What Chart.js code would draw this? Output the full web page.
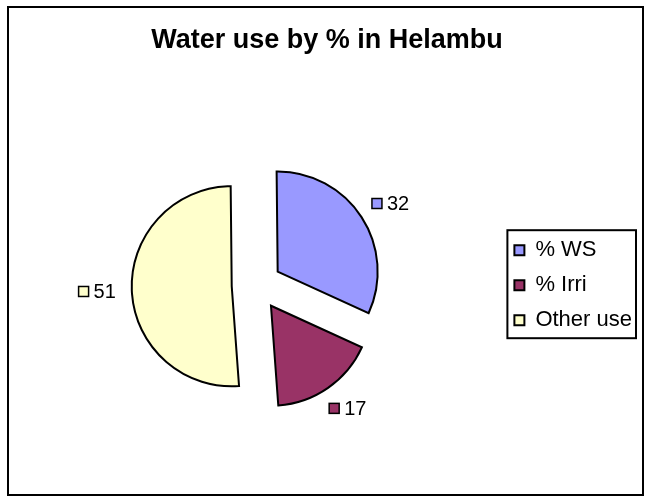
<!DOCTYPE html>
<html>
<head>
<meta charset="utf-8">
<title>Water use by % in Helambu</title>
<script src="https://cdn.jsdelivr.net/npm/chart.js@4.4.1/dist/chart.umd.min.js"></script>
<style>
  html, body { margin: 0; padding: 0; background: #fff; }
  canvas { display: block; }
</style>
</head>
<body>
<canvas id="water-pie" width="646" height="497"></canvas>
<script>
// --- DATA ---
const categories = ['% WS', '% Irri', 'Other use'];
const shares = [32, 17, 51];
const sliceColors = ['#9999FF', '#993366', '#FFFFCC'];

const FONT = "'Liberation Sans', Arial, sans-serif";
const EXPLODE = 25;      // how far each slice is pulled out
const LABEL_GAP = 16;    // distance from the rim to the value label

// push every slice out along its middle angle (Excel style exploded pie)
const explodePlugin = {
    id: 'explode',
    afterDatasetUpdate(chart, args) {
        args.meta.data.forEach(arc => {
            const mid = (arc.startAngle + arc.endAngle) / 2;
            arc.x += Math.cos(mid) * EXPLODE;
            arc.y += Math.sin(mid) * EXPLODE;
        });
    }
};

// value labels with a small colour key in front, outside each slice
const valueLabels = {
    id: 'valueLabels',
    afterDatasetsDraw(chart) {
        const ctx = chart.ctx;
        const meta = chart.getDatasetMeta(0);
        ctx.save();
        ctx.font = '20px ' + FONT;
        ctx.textBaseline = 'middle';
        meta.data.forEach((arc, i) => {
            const text = String(shares[i]);
            const mid = (arc.startAngle + arc.endAngle) / 2;
            const cos = Math.cos(mid), sin = Math.sin(mid);
            const dist = arc.outerRadius + LABEL_GAP;
            const px = arc.x + cos * dist;
            const py = arc.y + sin * dist;
            const w = 15 + ctx.measureText(text).width;
            const h = 18;
            const left = px - w * (1 - cos) / 2;
            const top = py - h * (1 - sin) / 2;
            ctx.fillStyle = sliceColors[i];
            ctx.fillRect(left, top + h / 2 - 5, 10, 10);
            ctx.lineWidth = 1.5;
            ctx.strokeStyle = '#000';
            ctx.strokeRect(left, top + h / 2 - 5, 10, 10);
            ctx.fillStyle = '#000';
            ctx.fillText(text, left + 15, top + h / 2 + 1);
        });
        ctx.restore();
    }
};

// outer frame of the chart and the box round the legend
const frames = {
    id: 'frames',
    afterDraw(chart) {
        const ctx = chart.ctx;
        ctx.save();
        ctx.strokeStyle = '#000';
        ctx.lineWidth = 2;
        ctx.strokeRect(8, 7, 635, 488);

        const hits = chart.legend.legendHitBoxes;
        if (hits && hits.length) {
            const l = Math.min(...hits.map(b => b.left)) - 7;
            const t = Math.min(...hits.map(b => b.top)) - 9;
            const r = Math.max(...hits.map(b => b.left + b.width)) + 4;
            const btm = Math.max(...hits.map(b => b.top + b.height)) + 7;
            ctx.strokeRect(l, t, r - l, btm - t);
        }
        ctx.restore();
    }
};

new Chart(document.getElementById('water-pie'), {
    type: 'pie',
    data: {
        labels: categories,
        datasets: [{
            data: shares,
            backgroundColor: sliceColors,
            borderColor: '#000',
            borderWidth: 2,
            borderJoinStyle: 'miter',
            radius: 100
        }]
    },
    options: {
        responsive: false,
        animation: false,
        rotation: -0.6,
        layout: { padding: { left: 12, right: 4, top: 10, bottom: 10 } },
        plugins: {
            title: {
                display: true,
                text: 'Water use by % in Helambu',
                color: '#000',
                font: { family: FONT, size: 27, weight: 'bold' },
                padding: { top: 14, bottom: 27 }
            },
            legend: {
                position: 'right',
                fullSize: false,
                labels: {
                    color: '#000',
                    font: { family: FONT, size: 22 },
                    boxWidth: 10,
                    boxHeight: 10,
                    padding: 13
                }
            },
            tooltip: { enabled: false }
        }
    },
    plugins: [explodePlugin, valueLabels, frames]
});
</script>
</body>
</html>
